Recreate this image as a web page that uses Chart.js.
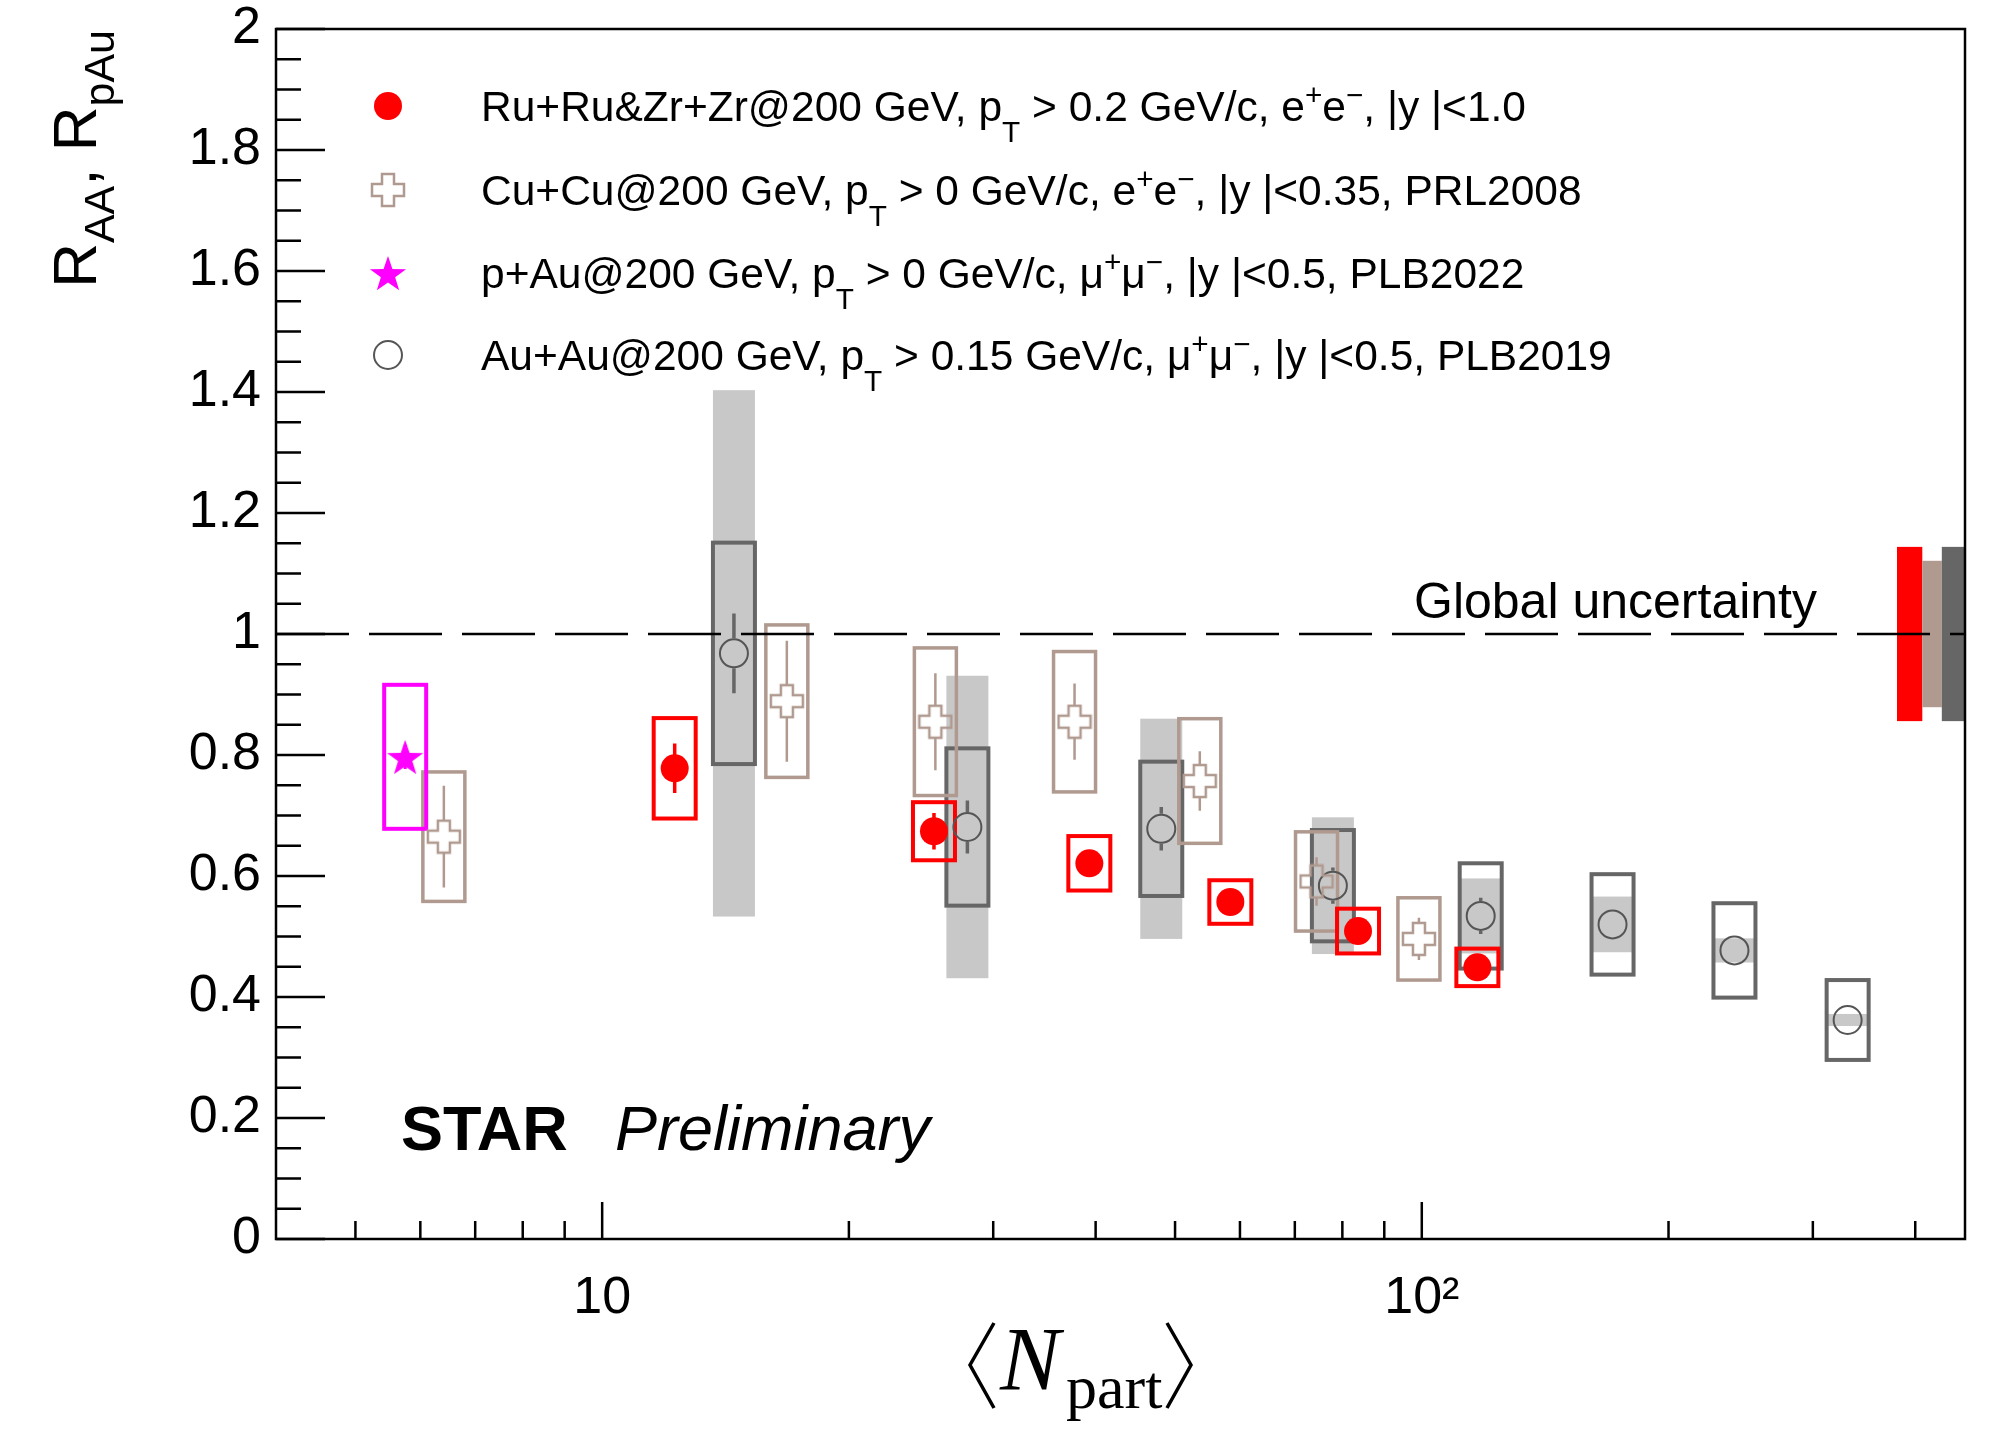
<!DOCTYPE html>
<html>
<head>
<meta charset="utf-8">
<script src="https://cdn.jsdelivr.net/npm/chart.js@4.4.0/dist/chart.umd.min.js"></script>
<style>
  html, body { margin: 0; padding: 0; background: #fff; }
  #c { display: block; }
</style>
</head>
<body>
<canvas id="c" width="1997" height="1429" style="width:1997px;height:1429px"></canvas>
<script>
// Ru+Ru & Zr+Zr @ 200 GeV (preliminary)
var ruNpart = [12.26, 25.4, 39.3, 58.4, 83.6, 116.9];
var ruRaa   = [0.778, 0.674, 0.621, 0.557, 0.509, 0.449];
var ruStat  = [0.041, 0.030, 0.020, 0.016, 0.014, 0.012];
var ruSys   = [0.083, 0.048, 0.045, 0.036, 0.037, 0.031];

// Cu+Cu @ 200 GeV, PRL2008
var cuNpart = [6.41, 16.8, 25.5, 37.7, 53.6, 74.4, 99.2];
var cuRaa   = [0.665, 0.889, 0.855, 0.855, 0.757, 0.591, 0.496];
var cuStat  = [0.084, 0.100, 0.080, 0.063, 0.049, 0.040, 0.035];
var cuSys   = [0.107, 0.126, 0.122, 0.116, 0.103, 0.082, 0.068];

// p+Au @ 200 GeV, PLB2022
var pauNpart = [5.75];
var pauRaa   = [0.797];
var pauStat  = [0.020];
var pauSys   = [0.119];

// Au+Au @ 200 GeV, PLB2019
var auNpart = [14.48, 27.9, 48.1, 77.9, 118, 170.9, 240.7, 330.8];
var auRaa   = [0.968, 0.681, 0.678, 0.584, 0.534, 0.520, 0.477, 0.362];
var auStat  = [0.066, 0.044, 0.036, 0.030, 0.030, 0.020, 0.020, 0.015];
var auSys   = [0.183, 0.130, 0.111, 0.092, 0.087, 0.083, 0.078, 0.066];
var auBand  = [0.435, 0.250, 0.182, 0.113, 0.062, 0.046, 0.020, 0.010];

// global uncertainties: Ru+Ru&Zr+Zr, Cu+Cu, Au+Au
var globalErr = [0.144, 0.121, 0.144];

// axis ticks
var yMajorTicks = [0, 0.2, 0.4, 0.6, 0.8, 1, 1.2, 1.4, 1.6, 1.8, 2];
var yMinorTicks = [];
for (var k = 1; k < 40; k++) { if (k % 4 !== 0) yMinorTicks.push(k * 0.05); }
var xMajorTicks = [10, 100];
var xMinorTicks = [5, 6, 7, 8, 9, 20, 30, 40, 50, 60, 70, 80, 90, 200, 300, 400];

var legendLabels = [
  [['Ru+Ru&Zr+Zr@200 GeV, p', 0], ['T', 1], [' > 0.2 GeV/c, e', 0], ['+', 2], ['e', 0], ['\u2212', 2], [', |y |<1.0', 0]],
  [['Cu+Cu@200 GeV, p', 0], ['T', 1], [' > 0 GeV/c, e', 0], ['+', 2], ['e', 0], ['\u2212', 2], [', |y |<0.35, PRL2008', 0]],
  [['p+Au@200 GeV, p', 0], ['T', 1], [' > 0 GeV/c, \u03bc', 0], ['+', 2], ['\u03bc', 0], ['\u2212', 2], [', |y |<0.5, PLB2022', 0]],
  [['Au+Au@200 GeV, p', 0], ['T', 1], [' > 0.15 GeV/c, \u03bc', 0], ['+', 2], ['\u03bc', 0], ['\u2212', 2], [', |y |<0.5, PLB2019', 0]]
];

var sans = "'Liberation Sans', Arial, Helvetica, sans-serif";
var serif = "'Liberation Serif', 'Times New Roman', serif";
var red = '#ff0000', magenta = '#ff00ff', tan = '#b09a90', grey = '#666666', band = '#c8c8c8';
var boxHalf = 21;

// open cross (ROOT marker 28)
function makeCross(color) {
  var s = 36, m = s / 2, a = 6, r = 16;
  var c = document.createElement('canvas');
  c.width = s; c.height = s;
  var g = c.getContext('2d');
  g.beginPath();
  g.moveTo(m - a, m - r); g.lineTo(m + a, m - r); g.lineTo(m + a, m - a); g.lineTo(m + r, m - a);
  g.lineTo(m + r, m + a); g.lineTo(m + a, m + a); g.lineTo(m + a, m + r); g.lineTo(m - a, m + r);
  g.lineTo(m - a, m + a); g.lineTo(m - r, m + a); g.lineTo(m - r, m - a); g.lineTo(m - a, m - a);
  g.closePath();
  g.strokeStyle = color;
  g.lineWidth = 2.5;
  g.stroke();
  return c;
}

// filled star (ROOT marker 29)
function makeStar(color) {
  var s = 42, m = s / 2, R = 19, r = 7.5;
  var c = document.createElement('canvas');
  c.width = s; c.height = s;
  var g = c.getContext('2d');
  g.beginPath();
  for (var i = 0; i < 10; i++) {
    var ang = -Math.PI / 2 + i * Math.PI / 5;
    var rr = i % 2 ? r : R;
    var px = m + rr * Math.cos(ang), py = m + 2 + rr * Math.sin(ang);
    if (i === 0) g.moveTo(px, py); else g.lineTo(px, py);
  }
  g.closePath();
  g.fillStyle = color;
  g.fill();
  return c;
}

var crossImg = makeCross(tan);
var starImg = makeStar(magenta);

function pts(ns, vs) {
  return ns.map(function (n, i) { return { x: n, y: vs[i] }; });
}

function drawRich(g, parts, x, y, size, family) {
  var cx = x;
  parts.forEach(function (p) {
    var fs = p[1] ? size * 0.7 : size;
    g.font = fs + 'px ' + family;
    var dy = p[1] === 1 ? size * 0.5 : (p[1] === 2 ? -size * 0.38 : 0);
    g.fillText(p[0], cx, y + dy);
    cx += g.measureText(p[0]).width;
  });
  return cx - x;
}

var decor = {
  id: 'decor',
  beforeDatasetsDraw: function (chart) {
    var g = chart.ctx, xs = chart.scales.x, ys = chart.scales.y, a = chart.chartArea;
    g.save();

    // light grey bands behind Au+Au points
    g.fillStyle = band;
    auNpart.forEach(function (n, i) {
      var px = xs.getPixelForValue(n);
      var t = ys.getPixelForValue(auRaa[i] + auBand[i]), b = ys.getPixelForValue(auRaa[i] - auBand[i]);
      g.fillRect(px - boxHalf, t, 2 * boxHalf, b - t);
    });

    // global uncertainty bars at the right edge
    var gx = [[380, 408], [408, 431], [431, 460]];
    var gc = [red, tan, grey];
    gx.forEach(function (r, i) {
      var l = xs.getPixelForValue(r[0]), rr = xs.getPixelForValue(r[1]);
      var t = ys.getPixelForValue(1 + globalErr[i]), b = ys.getPixelForValue(1 - globalErr[i]);
      g.fillStyle = gc[i];
      g.fillRect(l, t, rr - l, b - t);
    });

    // systematic boxes
    function boxes(ns, vs, ss, color, lw) {
      g.strokeStyle = color;
      g.lineWidth = lw;
      ns.forEach(function (n, i) {
        var px = xs.getPixelForValue(n);
        var t = ys.getPixelForValue(vs[i] + ss[i]), b = ys.getPixelForValue(vs[i] - ss[i]);
        g.strokeRect(px - boxHalf, t, 2 * boxHalf, b - t);
      });
    }
    boxes(auNpart, auRaa, auSys, grey, 4);
    boxes(cuNpart, cuRaa, cuSys, tan, 3.5);
    boxes(pauNpart, pauRaa, pauSys, magenta, 4);
    boxes(ruNpart, ruRaa, ruSys, red, 4);

    // dashed line at unity
    var y1 = ys.getPixelForValue(1);
    g.strokeStyle = '#000';
    g.lineWidth = 2.5;
    g.setLineDash([73, 20]);
    g.beginPath();
    g.moveTo(a.left, y1);
    g.lineTo(a.right, y1);
    g.stroke();
    g.setLineDash([]);

    // statistical error bars
    function stat(ns, vs, es, color, lw, gap) {
      g.strokeStyle = color;
      g.lineWidth = lw;
      ns.forEach(function (n, i) {
        var px = xs.getPixelForValue(n), py = ys.getPixelForValue(vs[i]);
        var t = ys.getPixelForValue(vs[i] + es[i]), b = ys.getPixelForValue(vs[i] - es[i]);
        g.beginPath();
        if (t < py - gap) { g.moveTo(px, t); g.lineTo(px, py - gap); }
        if (b > py + gap) { g.moveTo(px, py + gap); g.lineTo(px, b); }
        g.stroke();
      });
    }
    stat(auNpart, auRaa, auStat, grey, 3.5, 15);
    stat(cuNpart, cuRaa, cuStat, tan, 2.5, 16);
    stat(pauNpart, pauRaa, pauStat, magenta, 3, 0);
    stat(ruNpart, ruRaa, ruStat, red, 3.5, 0);
    g.restore();
  },
  afterDraw: function (chart) {
    var g = chart.ctx, xs = chart.scales.x, ys = chart.scales.y, a = chart.chartArea;
    g.save();
    g.strokeStyle = '#000';
    g.fillStyle = '#000';
    g.lineWidth = 2.5;

    // frame
    g.strokeRect(a.left, a.top, a.right - a.left, a.bottom - a.top);

    // ticks (inside the frame)
    g.beginPath();
    yMajorTicks.forEach(function (v) {
      var p = ys.getPixelForValue(v);
      g.moveTo(a.left, p); g.lineTo(a.left + 49, p);
    });
    yMinorTicks.forEach(function (v) {
      var p = ys.getPixelForValue(v);
      g.moveTo(a.left, p); g.lineTo(a.left + 25, p);
    });
    xMajorTicks.forEach(function (v) {
      var p = xs.getPixelForValue(v);
      g.moveTo(p, a.bottom); g.lineTo(p, a.bottom - 37);
    });
    xMinorTicks.forEach(function (v) {
      var p = xs.getPixelForValue(v);
      g.moveTo(p, a.bottom); g.lineTo(p, a.bottom - 18);
    });
    g.stroke();

    // y axis title, rotated
    var yTitle = [['R', 0], ['AA', 1], [', R', 0], ['pAu', 1]];
    g.save();
    g.translate(96, 30);
    g.rotate(-Math.PI / 2);
    g.textBaseline = 'alphabetic';
    var W = 0;
    yTitle.forEach(function (p) {
      g.font = (p[1] ? 43 : 62) + 'px ' + sans;
      W += g.measureText(p[0]).width;
    });
    var cx = -W;
    yTitle.forEach(function (p) {
      g.font = (p[1] ? 43 : 62) + 'px ' + sans;
      g.fillText(p[0], cx, p[1] ? 18 : 0);
      cx += g.measureText(p[0]).width;
    });
    g.restore();

    // x axis title <N_part>
    g.lineWidth = 3.5;
    g.lineJoin = 'miter';
    g.beginPath();
    g.moveTo(994, 1323); g.lineTo(970, 1365); g.lineTo(994, 1408);
    g.moveTo(1167, 1323); g.lineTo(1191, 1365); g.lineTo(1167, 1408);
    g.stroke();
    g.textBaseline = 'alphabetic';
    g.font = 'italic 90px ' + serif;
    g.fillText('N', 1000, 1390);
    g.font = '62px ' + serif;
    g.fillText('part', 1066, 1408);

    // legend
    var rows = [106, 190, 273, 355];
    var mx = 388;
    g.fillStyle = red;
    g.beginPath(); g.arc(mx, rows[0], 14, 0, 2 * Math.PI); g.fill();
    g.drawImage(crossImg, mx - crossImg.width / 2, rows[1] - crossImg.height / 2);
    g.drawImage(starImg, mx - starImg.width / 2, rows[2] - starImg.height / 2);
    g.strokeStyle = '#555';
    g.lineWidth = 2;
    g.beginPath(); g.arc(mx, rows[3], 14, 0, 2 * Math.PI); g.stroke();
    g.fillStyle = '#000';
    legendLabels.forEach(function (parts, i) {
      drawRich(g, parts, 481, rows[i] + 15, 42.5, sans);
    });

    // labels inside the frame
    g.font = 'bold 63px ' + sans;
    g.fillText('STAR', 401, 1150);
    g.font = 'italic 63px ' + sans;
    g.fillText('Preliminary', 615, 1150);
    g.font = '50px ' + sans;
    g.fillText('Global uncertainty', 1414, 618);
    g.restore();
  }
};

new Chart(document.getElementById('c'), {
  type: 'scatter',
  data: {
    datasets: [
      { label: 'Ru+Ru&Zr+Zr', data: pts(ruNpart, ruRaa), pointStyle: 'circle', pointRadius: 14,
        backgroundColor: red, borderColor: red, borderWidth: 0 },
      { label: 'p+Au', data: pts(pauNpart, pauRaa), pointStyle: starImg },
      { label: 'Cu+Cu', data: pts(cuNpart, cuRaa), pointStyle: crossImg },
      { label: 'Au+Au', data: pts(auNpart, auRaa), pointStyle: 'circle', pointRadius: 14,
        backgroundColor: 'rgba(0,0,0,0)', borderColor: '#555', borderWidth: 2 }
    ]
  },
  options: {
    responsive: false,
    animation: false,
    events: [],
    layout: { padding: { left: 0, right: 32, top: 29, bottom: 0 } },
    plugins: { legend: { display: false }, tooltip: { enabled: false } },
    scales: {
      x: {
        type: 'logarithmic',
        min: 4,
        max: 460,
        grid: { display: false, drawTicks: false },
        border: { display: false },
        afterBuildTicks: function (s) { s.ticks = xMajorTicks.map(function (v) { return { value: v }; }); },
        afterFit: function (s) { s.height = 190; s.paddingLeft = 0; s.paddingRight = 0; },
        ticks: {
          autoSkip: false, maxRotation: 0, minRotation: 0, padding: 28, color: '#000',
          font: { size: 52, family: sans },
          callback: function (v) { return v === 100 ? '10\u00b2' : String(v); }
        }
      },
      y: {
        min: 0,
        max: 2,
        grid: { display: false, drawTicks: false },
        border: { display: false },
        afterFit: function (s) { s.width = 276; s.paddingTop = 0; s.paddingBottom = 0; },
        ticks: {
          stepSize: 0.2, padding: 15, color: '#000',
          font: { size: 52, family: sans },
          callback: function (v) { return String(Math.round(v * 10) / 10); }
        }
      }
    }
  },
  plugins: [decor]
});
</script>
</body>
</html>
